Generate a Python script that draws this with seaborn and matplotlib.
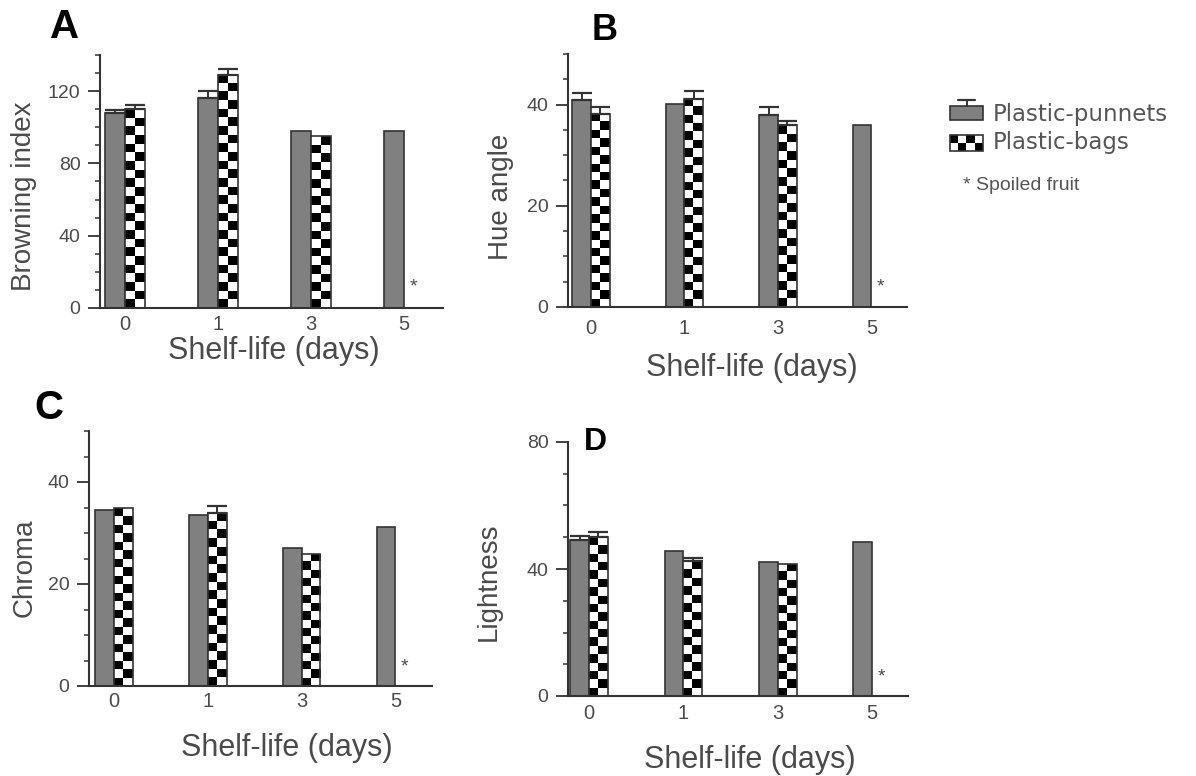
import numpy as np
import pandas as pd
import matplotlib
matplotlib.use("Agg")
import matplotlib.pyplot as plt
import seaborn as sns
from matplotlib.patches import Rectangle
from matplotlib.ticker import MultipleLocator

# ---------------- data ----------------
days = ["0", "1", "3", "5"]
groups = ["Plastic-punnets", "Plastic-bags"]

browning_punnets = [108, 116, 98, 98]
browning_punnets_err = [1.5, 4.0, 0, 0]
browning_bags = [110, 129, 95, np.nan]
browning_bags_err = [2.5, 3.0, 0, np.nan]

hue_punnets = [41.0, 40.2, 37.9, 35.9]
hue_punnets_err = [1.2, 0, 1.7, 0]
hue_bags = [38.2, 41.2, 35.9, np.nan]
hue_bags_err = [1.4, 1.4, 0.8, np.nan]

chroma_punnets = [34.5, 33.5, 27.0, 31.2]
chroma_punnets_err = [0, 0, 0, 0]
chroma_bags = [34.9, 34.0, 25.9, np.nan]
chroma_bags_err = [0, 1.3, 0, np.nan]

light_punnets = [49.1, 45.7, 42.2, 48.5]
light_punnets_err = [1.3, 0, 0, 0]
light_bags = [50.0, 42.5, 41.6, np.nan]
light_bags_err = [1.6, 1.0, 0, np.nan]

y_labels = ["Browning index", "Hue angle", "Chroma", "Lightness"]
panel_letters = ["A", "B", "C", "D"]
x_label = "Shelf-life (days)"
spoiled_note = "* Spoiled fruit"

# ---------------- style ----------------
W, H = 1196, 776
sns.set_theme(style="ticks")
plt.rcParams["font.family"] = ["Liberation Sans", "DejaVu Sans"]
TXT = "#4a4a4a"
AX = "#333333"
GRAY = "#808080"

fig = plt.figure(figsize=(W / 100, H / 100), dpi=100)

panels = [
    dict(vals=(browning_punnets, browning_punnets_err, browning_bags, browning_bags_err),
         rect=(100, 443, 55, 308), ylim=140, major=40, minor=10, xlim=(-0.27, 3.42), width=0.43,
         ylc=(-0.184, 0.44), xlc=(0.507, -0.11), tpad=5.0, let=(65, 27), lsize=29, star=0.083),
    dict(vals=(hue_punnets, hue_punnets_err, hue_bags, hue_bags_err),
         rect=(568, 907, 54, 307), ylim=50, major=20, minor=5, xlim=(-0.246, 3.38), width=0.40,
         ylc=(-0.159, 0.435), xlc=(0.543, -0.182), tpad=8.6, let=(605, 30), lsize=26, star=0.079),
    dict(vals=(chroma_punnets, chroma_punnets_err, chroma_bags, chroma_bags_err),
         rect=(89, 432, 431, 686), ylim=50, major=20, minor=5, xlim=(-0.267, 3.39), width=0.40,
         ylc=(-0.149, 0.463), xlc=(0.577, -0.184), tpad=4.3, let=(49, 408), lsize=29, star=0.075),
    dict(vals=(light_punnets, light_punnets_err, light_bags, light_bags_err),
         rect=(568, 908, 442, 696), ylim=80, major=40, minor=10, xlim=(-0.223, 3.38), width=0.40,
         ylc=(-0.194, 0.449), xlc=(0.535, -0.193), tpad=5.8, let=(595, 442), lsize=23, star=0.075),
]


def checker_fill(ax, patch, cell_px=8.5, zorder=2.5):
    """Fill a bar patch with a black/white checkerboard clipped to the patch."""
    fig.canvas.draw()
    x0, x1 = patch.get_x(), patch.get_x() + patch.get_width()
    y0, y1 = patch.get_y(), patch.get_y() + patch.get_height()
    (px0, py0), (px1, py1) = ax.transData.transform([(x0, y0), (x1, y1)])
    ncol = max(1, int(round(abs(px1 - px0) / cell_px)))
    nrow = max(1, int(round(abs(py1 - py0) / cell_px)))
    arr = (np.add.outer(np.arange(nrow), np.arange(ncol)) % 2).astype(float)
    im = ax.imshow(arr, cmap="gray", vmin=0, vmax=1, extent=[x0, x1, y0, y1],
                   aspect="auto", interpolation="nearest", origin="lower", zorder=zorder)
    im.set_clip_path(patch)
    patch.set_facecolor("none")
    patch.set_zorder(zorder + 0.2)


for i, p in enumerate(panels):
    l, r, t, b = p["rect"]
    ax = fig.add_axes([l / W, 1 - b / H, (r - l) / W, (b - t) / H])
    punn, punn_err, bags, bags_err = p["vals"]
    df = pd.DataFrame({
        "day": days * 2,
        "pack": [groups[0]] * 4 + [groups[1]] * 4,
        "value": list(punn) + list(bags),
    }).dropna()
    sns.barplot(data=df, x="day", y="value", hue="pack", order=days, hue_order=groups,
                palette={groups[0]: GRAY, groups[1]: "white"}, saturation=1,
                width=p["width"], edgecolor=AX, linewidth=1.2, errorbar=None,
                legend=False, ax=ax, zorder=2)
    ax.set_xlim(*p["xlim"])
    ax.set_ylim(0, p["ylim"])

    errs = [punn_err, bags_err]
    for ci, cont in enumerate(ax.containers[:2]):
        for patch in cont.patches:
            cx = patch.get_x() + patch.get_width() / 2
            idx = int(round(cx))
            e = errs[ci][idx]
            if np.isnan(e) or e <= 0:
                continue
            ax.errorbar(cx, patch.get_height(), yerr=[[0], [e]], fmt="none",
                        ecolor=AX, elinewidth=1.4, capsize=7.5, capthick=1.6, zorder=4)

    for patch in ax.containers[1].patches:
        checker_fill(ax, patch)

    # spoiled fruit mark above the missing plastic-bags bar at day 5
    ax.text(3 + p["width"] / 4, p["star"], "*", transform=ax.get_xaxis_transform(),
            ha="center", va="center", fontsize=14, color=TXT)

    sns.despine(ax=ax)
    for s in ("left", "bottom"):
        ax.spines[s].set_color(AX)
        ax.spines[s].set_linewidth(1.5)
    ax.yaxis.set_major_locator(MultipleLocator(p["major"]))
    ax.yaxis.set_minor_locator(MultipleLocator(p["minor"]))
    ax.tick_params(axis="y", which="major", length=8.6, width=1.3, color=AX,
                   labelsize=14, labelcolor=TXT, pad=5.5)
    ax.tick_params(axis="y", which="minor", length=3.6, width=1.1, color=AX)
    ax.tick_params(axis="x", length=0, labelsize=14.5, labelcolor=TXT, pad=p["tpad"])
    ax.set_facecolor("white")

    ax.set_ylabel(y_labels[i], fontsize=20, color=TXT)
    ax.yaxis.set_label_coords(*p["ylc"])
    ax.set_xlabel(x_label, fontsize=22, color=TXT)
    ax.xaxis.set_label_coords(*p["xlc"])
    ax.xaxis.label.set_va("top")

    fig.text(p["let"][0] / W, 1 - p["let"][1] / H, panel_letters[i], fontsize=p["lsize"],
             fontweight="bold", color="black", ha="center", va="center")

# ---------------- legend ----------------
lax = fig.add_axes([0, 0, 1, 1], zorder=5)
lax.set_xlim(0, W)
lax.set_ylim(H, 0)
lax.axis("off")

g1 = Rectangle((950, 106), 33, 14, facecolor=GRAY, edgecolor=AX, linewidth=1.2, zorder=2)
lax.add_patch(g1)
lax.plot([966.5, 966.5], [106, 100], color=AX, lw=1.4, zorder=3)
lax.plot([958, 975], [100, 100], color=AX, lw=1.6, zorder=3)
lax.text(993, 114, groups[0], fontsize=16.5, color="#555555", va="center", ha="left",
         family=["DejaVu Sans"])

g2 = Rectangle((950, 135), 33, 16, facecolor="none", edgecolor=AX, linewidth=1.2, zorder=3)
lax.add_patch(g2)
arr = (np.add.outer(np.arange(2), np.arange(4)) % 2).astype(float)
im = lax.imshow(arr, cmap="gray", vmin=0, vmax=1, extent=[950, 983, 151, 135],
                aspect="auto", interpolation="nearest", zorder=2)
im.set_clip_path(g2)
lax.text(993, 143, groups[1], fontsize=16.5, color="#555555", va="center", ha="left",
         family=["DejaVu Sans"])

lax.text(963, 186, spoiled_note, fontsize=14, color="#555555", va="center", ha="left")

fig.savefig("out.png", dpi=100, facecolor="white")
